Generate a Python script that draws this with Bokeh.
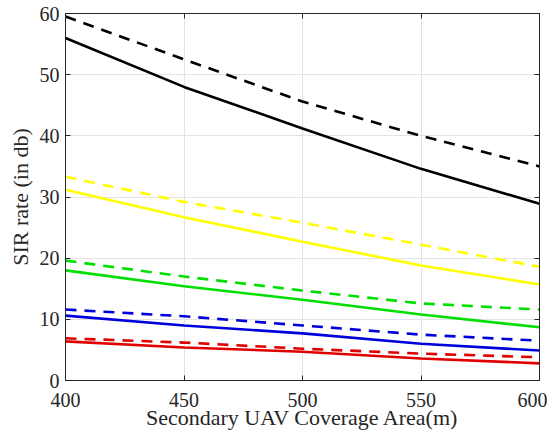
from bokeh.plotting import figure
from bokeh.models import Range1d, LinearAxis, FixedTicker
from bokeh.embed import file_html
from bokeh.resources import INLINE

x = [400, 450, 500, 550, 600]
black_dashed = [59.5, 52.5, 45.6, 40.0, 35.0]
black_solid = [56.0, 48.0, 41.2, 34.6, 28.9]
yellow_dashed = [33.3, 29.2, 25.8, 22.2, 18.6]
yellow_solid = [31.2, 26.7, 22.7, 18.8, 15.7]
green_dashed = [19.6, 17.0, 14.7, 12.6, 11.6]
green_solid = [18.0, 15.4, 13.2, 10.8, 8.7]
blue_dashed = [11.6, 10.5, 9.0, 7.5, 6.5]
blue_solid = [10.6, 9.0, 7.7, 6.0, 4.9]
red_dashed = [6.9, 6.2, 5.2, 4.4, 3.8]
red_solid = [6.4, 5.4, 4.7, 3.6, 2.8]

x_ticks = [400, 450, 500, 550, 600]
y_ticks = [0, 10, 20, 30, 40, 50, 60]

FONT = "Liberation Serif"
AX = "#262626"

p = figure(width=547, height=434, output_backend="svg", toolbar_location=None,
           x_range=Range1d(400, 600), y_range=Range1d(0, 60),
           min_border_left=65, min_border_right=8, min_border_top=13, min_border_bottom=54)
p.outline_line_color = AX
p.outline_line_width = 1

series = [
    (black_dashed, "black", "dashed"), (black_solid, "black", "solid"),
    (yellow_dashed, "#ffff00", "dashed"), (yellow_solid, "#ffff00", "solid"),
    (green_dashed, "#00e000", "dashed"), (green_solid, "#00e000", "solid"),
    (blue_dashed, "#0000dd", "dashed"), (blue_solid, "#0000dd", "solid"),
    (red_dashed, "#e00000", "dashed"), (red_solid, "#e00000", "solid"),
]
for ys, c, d in series:
    p.line(x, ys, line_color=c, line_width=2.6,
           line_dash=("11 8" if d == "dashed" else "solid"))

for ax in (p.xaxis[0], p.yaxis[0]):
    ax.axis_line_color = AX
    ax.major_tick_line_color = AX
    ax.major_tick_in = 5
    ax.major_tick_out = 0
    ax.minor_tick_line_color = None
    ax.major_label_text_font = FONT
    ax.major_label_text_font_size = "20px"
    ax.major_label_text_color = "#262626"
    ax.axis_label_text_font = FONT
    ax.axis_label_text_font_size = "22px"
    ax.axis_label_text_font_style = "normal"
    ax.axis_label_text_color = "#262626"

p.xaxis[0].ticker = FixedTicker(ticks=x_ticks)
p.yaxis[0].ticker = FixedTicker(ticks=y_ticks)
p.xaxis[0].axis_label = "Secondary UAV Coverage Area(m)"
p.yaxis[0].axis_label = "SIR rate (in db)"
p.xaxis[0].major_label_standoff = 12
p.yaxis[0].major_label_standoff = 6
p.xaxis[0].axis_label_standoff = -5
p.yaxis[0].axis_label_standoff = 4

top = LinearAxis(ticker=FixedTicker(ticks=x_ticks), major_label_text_font_size="0px",
                 major_tick_in=5, major_tick_out=0, minor_tick_line_color=None,
                 axis_line_color=AX, major_tick_line_color=AX)
right = LinearAxis(ticker=FixedTicker(ticks=y_ticks), major_label_text_font_size="0px",
                   major_tick_in=5, major_tick_out=0, minor_tick_line_color=None,
                   axis_line_color=AX, major_tick_line_color=AX)
top.major_label_text_color = None
right.major_label_text_color = None
p.add_layout(top, "above")
p.add_layout(right, "right")

p.xgrid.ticker = FixedTicker(ticks=x_ticks)
p.ygrid.ticker = FixedTicker(ticks=y_ticks)
p.xgrid.grid_line_color = "#e3e3e3"
p.ygrid.grid_line_color = "#e3e3e3"
p.xgrid.grid_line_width = 1
p.ygrid.grid_line_width = 1

open("out.html", "w").write(file_html(p, INLINE))
